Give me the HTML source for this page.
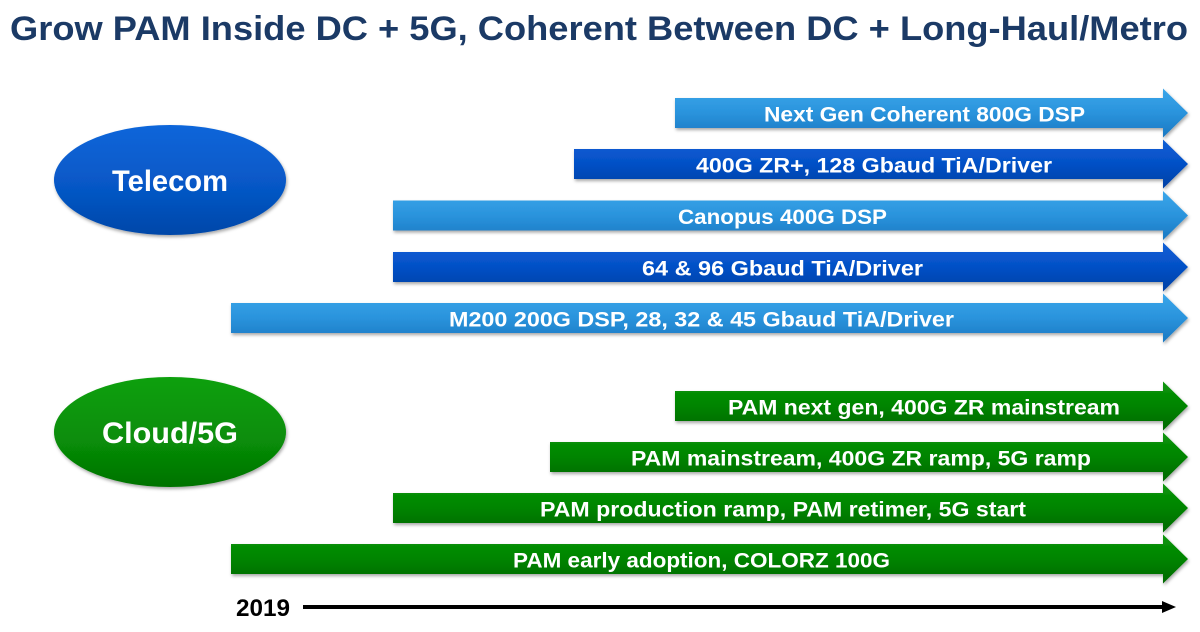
<!DOCTYPE html>
<html>
<head>
<meta charset="utf-8">
<style>
  html, body { margin:0; padding:0; background:#ffffff; }
  body { width:1200px; height:632px; overflow:hidden; }
  svg { display:block; }
  text { font-family: "Liberation Sans", "DejaVu Sans", sans-serif; }
</style>
</head>
<body>
<svg width="1200" height="632" viewBox="0 0 1200 632" xmlns="http://www.w3.org/2000/svg">
  <defs>
    <linearGradient id="gLight" x1="0" y1="0" x2="0" y2="1">
      <stop offset="0" stop-color="#3aa6ea"/>
      <stop offset="0.5" stop-color="#2a93dc"/>
      <stop offset="1" stop-color="#1a78c2"/>
    </linearGradient>
    <linearGradient id="gDark" x1="0" y1="0" x2="0" y2="1">
      <stop offset="0" stop-color="#0c5fd6"/>
      <stop offset="0.5" stop-color="#0550c6"/>
      <stop offset="1" stop-color="#0040a4"/>
    </linearGradient>
    <linearGradient id="gGreen" x1="0" y1="0" x2="0" y2="1">
      <stop offset="0" stop-color="#0a950a"/>
      <stop offset="0.5" stop-color="#028402"/>
      <stop offset="1" stop-color="#006800"/>
    </linearGradient>
    <linearGradient id="gTel" x1="0" y1="0" x2="0" y2="1">
      <stop offset="0" stop-color="#0b66da"/>
      <stop offset="0.6" stop-color="#0656c4"/>
      <stop offset="1" stop-color="#0447a8"/>
    </linearGradient>
    <linearGradient id="gCloud" x1="0" y1="0" x2="0" y2="1">
      <stop offset="0" stop-color="#0ba00b"/>
      <stop offset="0.6" stop-color="#078c07"/>
      <stop offset="1" stop-color="#037203"/>
    </linearGradient>
    <filter id="sh" x="-5%" y="-30%" width="110%" height="170%">
      <feDropShadow dx="1" dy="2" stdDeviation="1.5" flood-color="#000" flood-opacity="0.35"/>
    </filter>
  </defs>

  <!-- Title -->
  <text x="10" y="40" font-size="34" font-weight="bold" fill="#1b3a66" textLength="1178" lengthAdjust="spacingAndGlyphs">Grow PAM Inside DC + 5G, Coherent Between DC + Long-Haul/Metro</text>

  <!-- Ellipses -->
  <ellipse cx="170" cy="180" rx="116" ry="55" fill="url(#gTel)" filter="url(#sh)"/>
  <text x="112" y="191" font-size="30" font-weight="bold" fill="#ffffff" textLength="116" lengthAdjust="spacingAndGlyphs">Telecom</text>

  <ellipse cx="170" cy="432" rx="116" ry="55" fill="url(#gCloud)" filter="url(#sh)"/>
  <text x="102" y="443" font-size="30" font-weight="bold" fill="#ffffff" textLength="136" lengthAdjust="spacingAndGlyphs">Cloud/5G</text>

  <!-- Telecom arrows -->
  <g filter="url(#sh)">
    <path d="M675,98 L1163,98 L1163,88.5 L1188,113 L1163,137.5 L1163,128 L675,128 Z" fill="url(#gLight)"/>
    <path d="M574,149 L1163,149 L1163,139.5 L1188,164 L1163,188.5 L1163,179 L574,179 Z" fill="url(#gDark)"/>
    <path d="M393,200.5 L1163,200.5 L1163,191 L1188,215.5 L1163,240 L1163,230.5 L393,230.5 Z" fill="url(#gLight)"/>
    <path d="M393,252 L1163,252 L1163,242.5 L1188,267 L1163,291.5 L1163,282 L393,282 Z" fill="url(#gDark)"/>
    <path d="M231,303 L1163,303 L1163,293.5 L1188,318 L1163,342.5 L1163,333 L231,333 Z" fill="url(#gLight)"/>
  </g>
  <g font-size="21" font-weight="bold" fill="#ffffff">
    <text x="764" y="121.5" textLength="321" lengthAdjust="spacingAndGlyphs">Next Gen Coherent 800G DSP</text>
    <text x="696" y="172.5" textLength="356" lengthAdjust="spacingAndGlyphs">400G ZR+, 128 Gbaud TiA/Driver</text>
    <text x="678" y="224" textLength="209" lengthAdjust="spacingAndGlyphs">Canopus 400G DSP</text>
    <text x="642" y="275.5" textLength="281" lengthAdjust="spacingAndGlyphs">64 &amp; 96 Gbaud TiA/Driver</text>
    <text x="449" y="326.5" textLength="505" lengthAdjust="spacingAndGlyphs">M200 200G DSP, 28, 32 &amp; 45 Gbaud TiA/Driver</text>
  </g>

  <!-- Green arrows -->
  <g filter="url(#sh)">
    <path d="M675,391 L1163,391 L1163,381.5 L1188,406 L1163,430.5 L1163,421 L675,421 Z" fill="url(#gGreen)"/>
    <path d="M550,442 L1163,442 L1163,432.5 L1188,457 L1163,481.5 L1163,472 L550,472 Z" fill="url(#gGreen)"/>
    <path d="M393,493 L1163,493 L1163,483.5 L1188,508 L1163,532.5 L1163,523 L393,523 Z" fill="url(#gGreen)"/>
    <path d="M231,544 L1163,544 L1163,534.5 L1188,559 L1163,583.5 L1163,574 L231,574 Z" fill="url(#gGreen)"/>
  </g>
  <g font-size="21" font-weight="bold" fill="#ffffff">
    <text x="728" y="414.5" textLength="392" lengthAdjust="spacingAndGlyphs">PAM next gen, 400G ZR mainstream</text>
    <text x="631" y="465.5" textLength="460" lengthAdjust="spacingAndGlyphs">PAM mainstream, 400G ZR ramp, 5G ramp</text>
    <text x="540" y="516.5" textLength="486" lengthAdjust="spacingAndGlyphs">PAM production ramp, PAM retimer, 5G start</text>
    <text x="513" y="567.5" textLength="377" lengthAdjust="spacingAndGlyphs">PAM early adoption, COLORZ 100G</text>
  </g>

  <!-- Timeline -->
  <text x="236" y="616" font-size="24" font-weight="bold" fill="#000000" textLength="54" lengthAdjust="spacingAndGlyphs">2019</text>
  <line x1="303" y1="607" x2="1166" y2="607" stroke="#000000" stroke-width="4"/>
  <polygon points="1162,601 1176,607 1162,613" fill="#000000"/>
</svg>
</body>
</html>
